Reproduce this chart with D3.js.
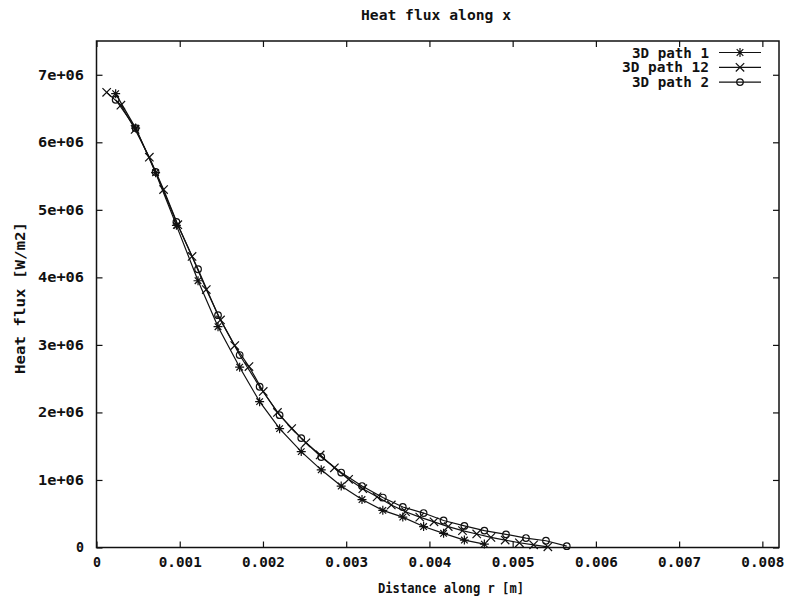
<!DOCTYPE html>
<html>
<head>
<meta charset="utf-8">
<script src="https://cdn.jsdelivr.net/npm/d3@7"></script>
<style>
  body { margin: 0; background: #fff; }
  text { font-family: "DejaVu Sans Mono", "Liberation Mono", monospace; font-weight: bold; fill: #111; }
</style>
</head>
<body>
<svg id="chart" width="789" height="601"></svg>
<script>
// Labels
const titleText = "Heat flux along x";
const xLabelText = "Distance along r [m]";
const yLabelText = "Heat flux [W/m2]";
const seriesNames = ["3D path 1", "3D path 12", "3D path 2"];

// Tick values and their printed labels
const xTicks = [0, 0.001, 0.002, 0.003, 0.004, 0.005, 0.006, 0.007, 0.008];
const xTickLabels = ["0", "0.001", "0.002", "0.003", "0.004", "0.005", "0.006", "0.007", "0.008"];
const yTicks = [0, 1e6, 2e6, 3e6, 4e6, 5e6, 6e6, 7e6];
const yTickLabels = ["0", "1e+06", "2e+06", "3e+06", "4e+06", "5e+06", "6e+06", "7e+06"];

// 3D path 1: distance [m] and heat flux [W/m2]
const r1 = [0.00023, 0.00047, 0.00071, 0.00096, 0.00122, 0.00146, 0.00172, 0.00196, 0.00220, 0.00246,
            0.00270, 0.00294, 0.00319, 0.00344, 0.00368, 0.00393, 0.00417, 0.00442, 0.00466];
const q1 = [6.72e6, 6.21e6, 5.55e6, 4.77e6, 3.95e6, 3.27e6, 2.67e6, 2.16e6, 1.76e6, 1.42e6,
            1.15e6, 0.91e6, 0.71e6, 0.55e6, 0.45e6, 0.31e6, 0.21e6, 0.11e6, 0.05e6];

// 3D path 12
const r12 = [0.000122, 0.000293, 0.000464, 0.000635, 0.000806, 0.000977, 0.001148, 0.001319, 0.00149, 0.001661,
             0.001832, 0.002003, 0.002174, 0.002345, 0.002516, 0.002687, 0.002858, 0.003029, 0.0032, 0.003371,
             0.003542, 0.003713, 0.003884, 0.004055, 0.004226, 0.004397, 0.004568, 0.004739, 0.00491, 0.005081,
             0.005252, 0.005423];
const q12 = [6.74e6, 6.55e6, 6.19e6, 5.78e6, 5.30e6, 4.78e6, 4.31e6, 3.82e6, 3.37e6, 2.99e6,
             2.68e6, 2.31e6, 2.00e6, 1.76e6, 1.55e6, 1.37e6, 1.18e6, 1.01e6, 0.87e6, 0.75e6,
             0.63e6, 0.53e6, 0.45e6, 0.38e6, 0.31e6, 0.25e6, 0.20e6, 0.15e6, 0.11e6, 0.07e6,
             0.04e6, 0.01e6];

// 3D path 2
const r2 = [0.00023, 0.00047, 0.00071, 0.00096, 0.00122, 0.00146, 0.00172, 0.00196, 0.00220, 0.00246,
            0.00270, 0.00294, 0.00319, 0.00344, 0.00368, 0.00393, 0.00417, 0.00442, 0.00466, 0.00492,
            0.00516, 0.00540, 0.00565];
const q2 = [6.63e6, 6.21e6, 5.56e6, 4.82e6, 4.12e6, 3.44e6, 2.85e6, 2.38e6, 1.96e6, 1.62e6,
            1.34e6, 1.11e6, 0.91e6, 0.74e6, 0.60e6, 0.51e6, 0.40e6, 0.32e6, 0.25e6, 0.195e6,
            0.14e6, 0.10e6, 0.02e6];

const series = [
  { name: seriesNames[0], r: r1, q: q1, marker: "star" },
  { name: seriesNames[1], r: r12, q: q12, marker: "cross" },
  { name: seriesNames[2], r: r2, q: q2, marker: "circle" }
];

const svg = d3.select("#chart");
const plot = { left: 96.5, right: 779, top: 41, bottom: 547.5 };

const x = d3.scaleLinear().domain([0, 0.0082]).range([plot.left, plot.right]);
const y = d3.scaleLinear().domain([0, 7.5e6]).range([plot.bottom, plot.top]);

const FS = 13.5;

// Inward ticks on all four sides
const gBottom = svg.append("g").attr("transform", `translate(0,${plot.bottom})`)
  .call(d3.axisBottom(x).tickValues(xTicks).tickFormat((d, i) => xTickLabels[i])
    .tickSizeInner(-6).tickSizeOuter(0).tickPadding(10));
const gTop = svg.append("g").attr("transform", `translate(0,${plot.top})`)
  .call(d3.axisTop(x).tickValues(xTicks).tickFormat("").tickSizeInner(-6).tickSizeOuter(0));
const gLeft = svg.append("g").attr("transform", `translate(${plot.left},0)`)
  .call(d3.axisLeft(y).tickValues(yTicks).tickFormat((d, i) => yTickLabels[i])
    .tickSizeInner(-6).tickSizeOuter(0).tickPadding(12.5));
const gRight = svg.append("g").attr("transform", `translate(${plot.right},0)`)
  .call(d3.axisRight(y).tickValues(yTicks).tickFormat("").tickSizeInner(-6).tickSizeOuter(0));

[gBottom, gTop, gLeft, gRight].forEach(g => {
  g.select(".domain").remove();
  g.selectAll(".tick line").attr("stroke", "#111").attr("stroke-width", 1.2);
  g.selectAll("text").attr("font-size", FS).attr("font-family", null).attr("fill", "#111");
});
gBottom.selectAll(".tick text")
  .attr("textLength", d => d === 0 ? 8 : 43).attr("lengthAdjust", "spacingAndGlyphs");
gLeft.selectAll(".tick text")
  .attr("textLength", d => d === 0 ? 8 : 46).attr("lengthAdjust", "spacingAndGlyphs");

// Frame
svg.append("rect")
  .attr("x", plot.left).attr("y", plot.top)
  .attr("width", plot.right - plot.left).attr("height", plot.bottom - plot.top)
  .attr("fill", "none").attr("stroke", "#111").attr("stroke-width", 1.5);

// Marker shapes
function markerPath(type) {
  if (type === "star") {
    const a = 4.5, b = 3.3;
    return `M${-a},0L${a},0M0,${-a}L0,${a}M${-b},${-b}L${b},${b}M${-b},${b}L${b},${-b}`;
  }
  if (type === "cross") {
    const c = 4.2;
    return `M${-c},${-c}L${c},${c}M${-c},${c}L${c},${-c}`;
  }
  return d3.arc()({ innerRadius: 0, outerRadius: 3.3, startAngle: 0, endAngle: 2 * Math.PI });
}

const line = d3.line().x(d => x(d[0])).y(d => y(d[1]));

series.forEach(s => {
  const pts = s.r.map((v, i) => [v, s.q[i]]);
  svg.append("path").datum(pts).attr("d", line)
    .attr("fill", "none").attr("stroke", "#111").attr("stroke-width", 1.2);
  svg.append("g").selectAll("path").data(pts).join("path")
    .attr("transform", d => `translate(${x(d[0])},${y(d[1])})`)
    .attr("d", markerPath(s.marker))
    .attr("fill", "none").attr("stroke", "#111").attr("stroke-width", 1.2);
});

// Legend
const legend = svg.append("g");
series.forEach((s, i) => {
  const cy = 52.5 + i * 14.8;
  legend.append("text").attr("x", 709).attr("y", cy + 5)
    .attr("text-anchor", "end").attr("font-size", FS)
    .attr("textLength", s.name.length === 10 ? 87 : 77).attr("lengthAdjust", "spacingAndGlyphs")
    .text(s.name);
  legend.append("line").attr("x1", 719).attr("x2", 761).attr("y1", cy).attr("y2", cy)
    .attr("stroke", "#111").attr("stroke-width", 1.2);
  legend.append("path").attr("transform", `translate(740,${cy})`)
    .attr("d", markerPath(s.marker)).attr("fill", "none").attr("stroke", "#111").attr("stroke-width", 1.2);
});

// Title and axis labels
svg.append("text").attr("x", 436).attr("y", 20).attr("text-anchor", "middle")
  .attr("font-size", FS).attr("textLength", 150).attr("lengthAdjust", "spacingAndGlyphs")
  .text(titleText);
svg.append("text").attr("x", 451).attr("y", 593).attr("text-anchor", "middle")
  .attr("font-size", FS).attr("textLength", 146).attr("lengthAdjust", "spacingAndGlyphs")
  .text(xLabelText);
svg.append("text").attr("transform", "translate(25,298) rotate(-90)").attr("text-anchor", "middle")
  .attr("font-size", FS).attr("textLength", 152).attr("lengthAdjust", "spacingAndGlyphs")
  .text(yLabelText);
</script>
</body>
</html>
